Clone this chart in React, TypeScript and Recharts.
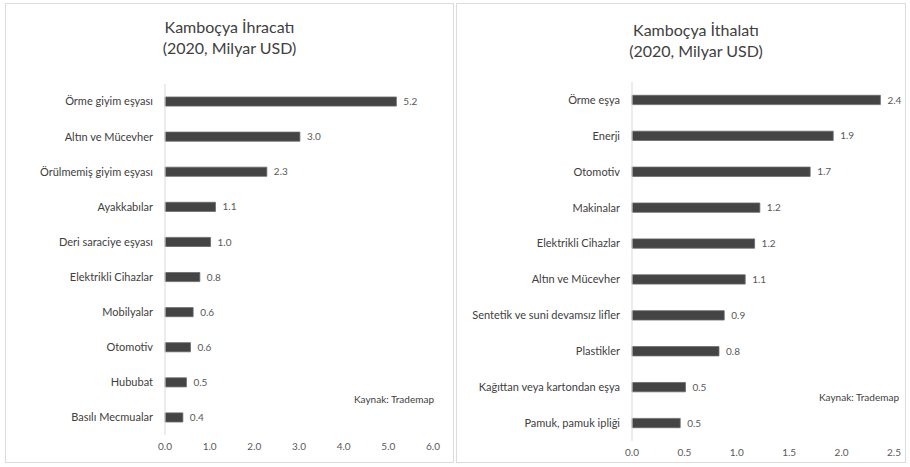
import { BarChart, Bar, XAxis, YAxis, LabelList } from 'recharts'

// Kamboçya ihracatı (2020, milyar USD)
const exportCategories = [
  'Örme giyim eşyası',
  'Altın ve Mücevher',
  'Örülmemiş giyim eşyası',
  'Ayakkabılar',
  'Deri saraciye eşyası',
  'Elektrikli Cihazlar',
  'Mobilyalar',
  'Otomotiv',
  'Hububat',
  'Basılı Mecmualar',
]
const exportValues = [5.18, 3.02, 2.28, 1.13, 1.02, 0.78, 0.63, 0.57, 0.48, 0.4]
const exportTicks = [0, 1, 2, 3, 4, 5, 6]

// Kamboçya ithalatı (2020, milyar USD)
const importCategories = [
  'Örme eşya',
  'Enerji',
  'Otomotiv',
  'Makinalar',
  'Elektrikli Cihazlar',
  'Altın ve Mücevher',
  'Sentetik ve suni devamsız lifler',
  'Plastikler',
  'Kağıttan veya kartondan eşya',
  'Pamuk, pamuk ipliği',
]
const importValues = [2.37, 1.92, 1.7, 1.22, 1.17, 1.08, 0.88, 0.83, 0.51, 0.46]
const importTicks = [0, 0.5, 1, 1.5, 2, 2.5]

const FONT = 'Lato, "Open Sans", sans-serif'
const TEXT = '#595959'

const toRows = (cats: string[], vals: number[]) =>
  cats.map((name, i) => ({ name, value: vals[i] }))

// plain tick, no wrapping of long category names
const CategoryTick = ({ x, y, payload }: any) => (
  <text
    x={x - 4}
    y={y}
    dy="0.355em"
    textAnchor="end"
    fill="#404040"
    fontSize={11}
    fontFamily={FONT}
  >
    {payload.value}
  </text>
)

function Panel({
  left,
  width,
  title,
  titleTop,
  titleShift,
  rows,
  ticks,
  yWidth,
  marginTop,
  marginRight,
  marginBottom,
  sourceLeft,
  sourceTop,
}: any) {
  return (
    <div
      style={{
        position: 'absolute',
        left,
        top: 3,
        width,
        height: 460,
        border: '1px solid #dcdcdc',
        boxSizing: 'border-box',
        background: '#fff',
      }}
    >
      <div
        style={{
          position: 'absolute',
          left: titleShift,
          width: '100%',
          top: titleTop,
          textAlign: 'center',
          fontFamily: FONT,
          fontSize: 16,
          lineHeight: '21px',
          color: '#404040',
        }}
      >
        {title[0]}
        <br />
        {title[1]}
      </div>
      <div
        style={{
          position: 'absolute',
          left: sourceLeft,
          top: sourceTop,
          fontFamily: FONT,
          fontSize: 10,
          color: '#404040',
        }}
      >
        Kaynak: Trademap
      </div>
      <div style={{ position: 'absolute', left: -1, top: -1 }}>
        <BarChart
          width={width}
          height={460}
          layout="vertical"
          data={rows}
          barCategoryGap="63%"
          margin={{ top: marginTop, right: marginRight, bottom: marginBottom, left: 0 }}
        >
          <XAxis
            type="number"
            domain={[ticks[0], ticks[ticks.length - 1]]}
            ticks={ticks}
            tickFormatter={(v: number) => v.toFixed(1)}
            axisLine={false}
            tickLine={false}
            height={20}
            tick={{ fill: TEXT, fontSize: 10, fontFamily: FONT }}
          />
          <YAxis
            type="category"
            dataKey="name"
            width={yWidth}
            axisLine={{ stroke: '#d9d9d9' }}
            tickLine={false}
            tick={<CategoryTick />}
            interval={0}
          />
          <Bar
            dataKey="value"
            fill="#444444"
            stroke="#6a6a6a"
            strokeWidth={0.8}
            isAnimationActive={false}
          >
            <LabelList
              dataKey="value"
              position="right"
              offset={7}
              formatter={(v: any) => Number(v).toFixed(1)}
              style={{ fill: TEXT, fontSize: 10, fontFamily: FONT }}
            />
          </Bar>
        </BarChart>
      </div>
    </div>
  )
}

export default function App() {
  return (
    <div
      style={{
        position: 'absolute',
        left: 0,
        top: 0,
        width: 910,
        height: 467,
        background: '#fff',
        overflow: 'hidden',
      }}
    >
      <Panel
        left={5}
        width={449}
        title={['Kamboçya İhracatı', '(2020, Milyar USD)']}
        titleTop={12}
        titleShift={0}
        rows={toRows(exportCategories, exportValues)}
        ticks={exportTicks}
        yWidth={160}
        marginTop={81}
        marginRight={21}
        marginBottom={8}
        sourceLeft={348}
        sourceTop={389}
      />
      <Panel
        left={456}
        width={450}
        title={['Kamboçya İthalatı', '(2020, Milyar USD)']}
        titleTop={15}
        titleShift={15}
        rows={toRows(importCategories, importValues)}
        ticks={importTicks}
        yWidth={176}
        marginTop={79}
        marginRight={12}
        marginBottom={2}
        sourceLeft={362}
        sourceTop={387}
      />
    </div>
  )
}
